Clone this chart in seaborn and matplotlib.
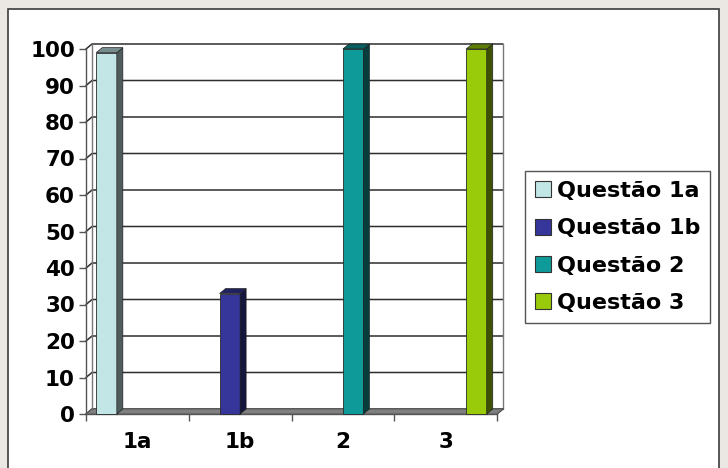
import numpy as np
import pandas as pd
import seaborn as sns
import matplotlib.pyplot as plt
import matplotlib.colors as mcolors
from matplotlib.patches import Polygon, Rectangle
from matplotlib.ticker import FixedLocator

categories = ['1a', '1b', '2', '3']
series = ['Questão 1a', 'Questão 1b', 'Questão 2', 'Questão 3']
q1a = [99, 0, 0, 0]
q1b = [0, 33, 0, 0]
q2 = [0, 0, 100, 0]
q3 = [0, 0, 0, 100]
colors = ['#c2e5e5', '#35359a', '#0f9a9a', '#9acb0a']

df = pd.DataFrame({
    'cat': categories * 4,
    'serie': np.repeat(series, 4),
    'valor': q1a + q1b + q2 + q3,
})

sns.set_style('white')
plt.rcParams['font.family'] = ['DejaVu Sans']
plt.rcParams['text.color'] = 'black'

fig = plt.figure(figsize=(7.28, 4.68), dpi=100, facecolor='#ebe7e3')
# white panel with dark frame
panel = Rectangle((8 / 728, -0.05), 711 / 728, 1.05 - 9 / 468,
                  transform=fig.transFigure, facecolor='white',
                  edgecolor='#3c3c3c', lw=1.2, zorder=-10)
fig.add_artist(panel)

ax = fig.add_axes([86 / 728, 1 - 414 / 468, 411 / 728, 365 / 468])
ax.set_facecolor('none')

sns.barplot(data=df, x='cat', y='valor', hue='serie', palette=colors, saturation=1,
            width=0.8, edgecolor='#2a2a2a', linewidth=0.6, ax=ax, zorder=3)
bars = [p for p in ax.patches if isinstance(p, Rectangle)]

ax.set_xlim(-0.5, 3.5)
ax.set_ylim(0, 100)

# depth of the 3D look, in data units
dx = 6 / (ax.bbox.width / 4)
dy = 5 / (ax.bbox.height / 100)

wall = '#2e2e2e'
yticks = np.arange(0, 101, 10)
for v in yticks:
    ax.plot([-0.5, -0.5 + dx, 3.5 + dx], [v, v + dy, v + dy],
            color=wall, lw=1.1, zorder=1, clip_on=False)
ax.plot([-0.5 + dx, -0.5 + dx], [dy, 100 + dy], color='#777777', lw=1, zorder=1, clip_on=False)
ax.plot([3.5 + dx, 3.5 + dx], [dy, 100 + dy], color='#777777', lw=1, zorder=1, clip_on=False)
ax.plot([3.5, 3.5 + dx], [0, dy], color=wall, lw=1, zorder=1, clip_on=False)
ax.add_patch(Polygon([(-0.5, 0), (3.5, 0), (3.5 + dx, dy), (-0.5 + dx, dy)],
                     closed=True, facecolor='#7f7f7f', edgecolor='#555555',
                     lw=0.6, zorder=2, clip_on=False))

# side and top faces of each bar
for bar in bars:
    h = bar.get_height()
    if h <= 0:
        continue
    x0 = bar.get_x()
    w = bar.get_width()
    rgb = np.array(mcolors.to_rgb(bar.get_facecolor()))
    side = Polygon([(x0 + w, 0), (x0 + w + dx, dy), (x0 + w + dx, h + dy), (x0 + w, h)],
                   closed=True, facecolor=rgb * 0.4, edgecolor='#222222', lw=0.5,
                   zorder=3, clip_on=False)
    top = Polygon([(x0, h), (x0 + dx, h + dy), (x0 + w + dx, h + dy), (x0 + w, h)],
                  closed=True, facecolor=rgb * 0.62, edgecolor='#222222', lw=0.5,
                  zorder=3, clip_on=False)
    ax.add_patch(side)
    ax.add_patch(top)
    bar.set_clip_on(False)

for s in ['top', 'right']:
    ax.spines[s].set_visible(False)
for s in ['left', 'bottom']:
    ax.spines[s].set_color('#555555')
    ax.spines[s].set_linewidth(1)
    ax.spines[s].set_zorder(2)

ax.set_yticks(yticks)
ax.set_yticklabels([str(v) for v in yticks], fontsize=15.5, fontweight='bold', color='black')
ax.set_xticks(range(len(categories)))
ax.set_xticklabels(categories, fontsize=15.5, fontweight='bold', color='black')
ax.xaxis.set_minor_locator(FixedLocator(np.arange(-0.5, 4, 1)))
ax.tick_params(axis='y', which='major', direction='out', length=5, width=1,
               color='#555555', pad=3, left=True)
ax.tick_params(axis='x', which='major', length=0, pad=13)
ax.tick_params(axis='x', which='minor', direction='out', length=5, width=1,
               color='#555555', bottom=True)
ax.set_xlabel('')
ax.set_ylabel('')

handles, labels = ax.get_legend_handles_labels()
leg = ax.legend(handles, labels, loc='upper left',
                bbox_to_anchor=(525 / 728, 1 - 171 / 468), bbox_transform=fig.transFigure,
                prop={'size': 16, 'weight': 'bold'}, frameon=True, fancybox=False,
                edgecolor='#555555', framealpha=1, handlelength=0.74, handleheight=0.74,
                handletextpad=0.25, labelspacing=0.78, borderpad=0.45, borderaxespad=0)
for txt in leg.get_texts():
    txt.set_color('black')
for hnd in leg.legend_handles:
    hnd.set_edgecolor('#333333')
    hnd.set_linewidth(0.8)

fig.savefig('out.png', dpi=100, facecolor=fig.get_facecolor())
